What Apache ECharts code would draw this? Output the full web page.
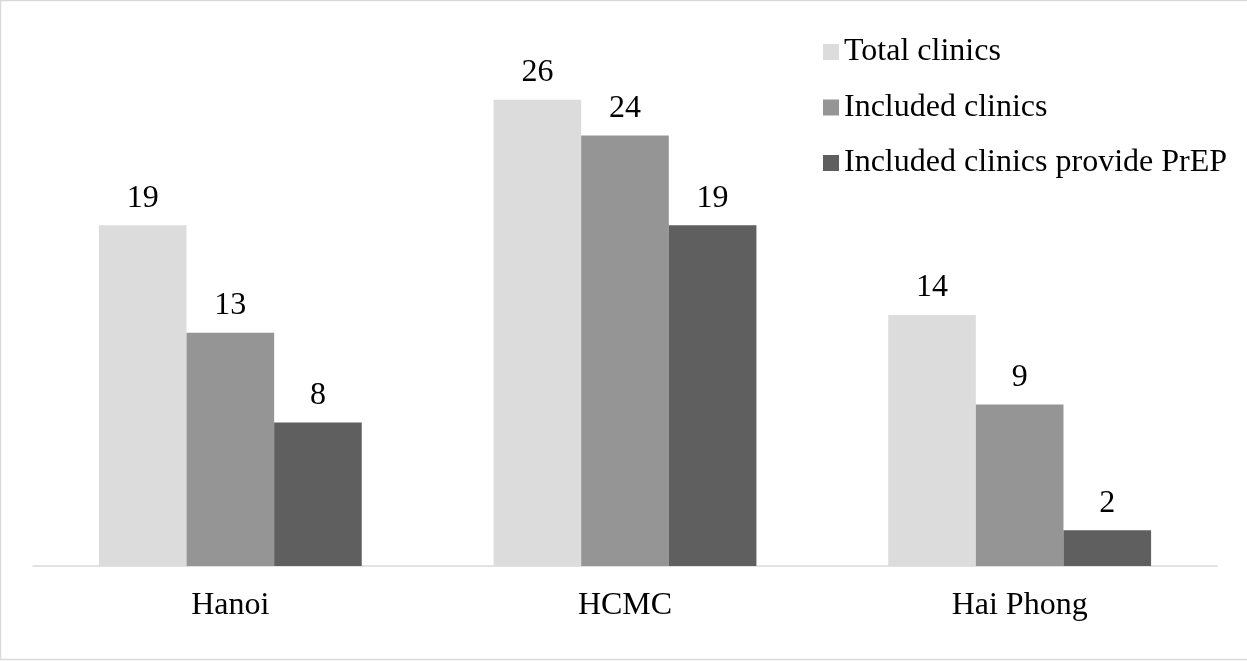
<!DOCTYPE html>
<html>
<head>
<meta charset="utf-8">
<style>
  html, body { margin: 0; padding: 0; background: #ffffff; }
  #chart { width: 1247px; height: 661px; }
</style>
<script src="https://cdn.jsdelivr.net/npm/echarts@6/dist/echarts.min.js"></script>
</head>
<body>
<div id="chart"></div>
<script>
// Clinic counts per city
const cities = ['Hanoi', 'HCMC', 'Hai Phong'];
const totalClinics = [19, 26, 14];
const includedClinics = [13, 24, 9];
const includedProvidePrEP = [8, 19, 2];

const seriesNames = ['Total clinics', 'Included clinics', 'Included clinics provide PrEP'];
const seriesColors = ['#dcdcdc', '#959595', '#5f5f5f'];

const FONT = '"Liberation Serif", "Times New Roman", serif';

const chart = echarts.init(document.getElementById('chart'), null, { renderer: 'canvas' });

function barSeries(name, data, color) {
  return {
    name: name,
    type: 'bar',
    data: data,
    barGap: '0%',
    barCategoryGap: '33.4%',
    itemStyle: { color: color },
    label: {
      show: true,
      position: 'top',
      distance: 11,
      color: '#000000',
      fontFamily: FONT,
      fontSize: 32,
      lineHeight: 32
    },
    emphasis: { disabled: true },
    animation: false
  };
}

chart.setOption({
  backgroundColor: '#ffffff',
  animation: false,
  graphic: [{
    type: 'rect',
    shape: { x: 0.5, y: 0.5, width: 1250, height: 659 },
    style: { fill: 'none', stroke: '#d9d9d9', lineWidth: 1.5 },
    silent: true
  }],
  grid: { left: 33, right: 30, top: 28, bottom: 95 },
  legend: {
    orient: 'vertical',
    left: 818,
    top: 31,
    itemWidth: 16,
    itemHeight: 16,
    itemGap: 23.5,
    icon: 'rect',
    data: seriesNames,
    textStyle: {
      color: '#000000',
      fontFamily: FONT,
      fontSize: 32,
      lineHeight: 32
    }
  },
  xAxis: {
    type: 'category',
    data: cities,
    axisLine: { show: true, lineStyle: { color: '#d9d9d9', width: 1.5 } },
    axisTick: { show: false },
    axisLabel: {
      margin: 24,
      color: '#000000',
      fontFamily: FONT,
      fontSize: 32,
      lineHeight: 32
    }
  },
  yAxis: {
    type: 'value',
    min: 0,
    max: 30,
    show: false,
    splitLine: { show: false }
  },
  series: [
    barSeries(seriesNames[0], totalClinics, seriesColors[0]),
    barSeries(seriesNames[1], includedClinics, seriesColors[1]),
    barSeries(seriesNames[2], includedProvidePrEP, seriesColors[2])
  ]
});
</script>
</body>
</html>
